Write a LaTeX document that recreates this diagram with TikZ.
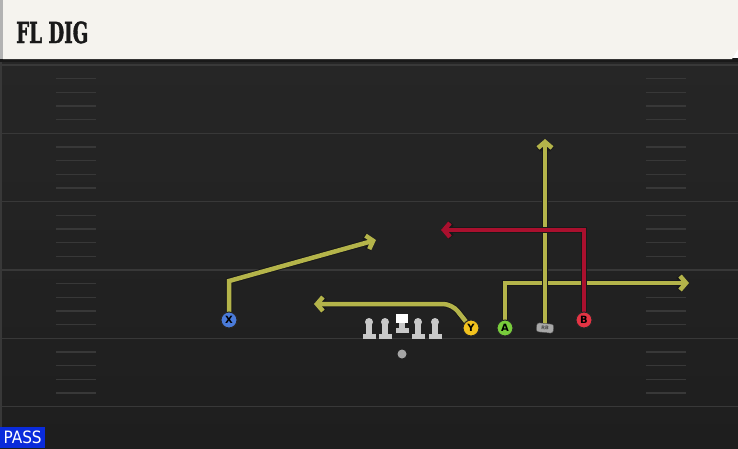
\documentclass[tikz,border=0pt]{standalone}
\usepackage{fontspec}
\newfontfamily\titelfont{DejaVu Serif Condensed}[BoldFeatures={FakeBold=1.6}]
\newfontfamily\spelerfont{DejaVu Sans}
\newfontfamily\passfont{DejaVu Sans Condensed}
\usetikzlibrary{positioning,arrows.meta}
\tikzset{>={Straight Barb[length=6pt,width=14pt]}}
\definecolor{balk}{HTML}{F5F3EE}
\definecolor{veldtop}{HTML}{262626}
\definecolor{veldbodem}{HTML}{1E1E1E}
\definecolor{lijn}{HTML}{383838}
\definecolor{routegeel}{HTML}{B4B44A}
\definecolor{routerood}{HTML}{AA102E}
\definecolor{xblauw}{HTML}{4A7BDA}
\definecolor{ygeel}{HTML}{F2C21E}
\definecolor{agroen}{HTML}{78CC3C}
\definecolor{brood}{HTML}{E43444}
\definecolor{rbgrijs}{HTML}{A8A8A8}
\definecolor{linie}{HTML}{C8C8C8}
\definecolor{passblauw}{HTML}{0A2BDB}
\pgfdeclarelayer{veld}
\pgfdeclarelayer{routes}
\pgfsetlayers{veld,routes,main}

\begin{document}
\begin{tikzpicture}[x=1pt,y=-1pt,
                    speler/.style={circle,draw=black!85,line width=1pt,inner sep=0,minimum size=16pt,
                                   font=\spelerfont\bfseries\fontsize{10}{10}\selectfont},
                    rb/.style={draw=black!70,fill=rbgrijs,rounded corners=2.5pt,inner sep=0,
                               minimum width=17pt,minimum height=9pt,
                               font=\spelerfont\bfseries\fontsize{5}{5}\selectfont,text=black!70},
                    route/.style={->,draw=routegeel,line width=4.5pt,
                                  preaction={draw=black!90,line width=6.5pt}},
                    yardlijn/.style={draw=lijn,line width=1.6pt},
                    hash/.style={draw=lijn,line width=1.3pt},
                    lineman/.pic={
                        \fill[linie] (-3,0) rectangle (3,12);
                        \fill[linie] (-6.5,12) rectangle (6.5,16.5);
                        \fill[linie] (0,0) circle (4);
                    },
                    center/.pic={
                        \fill[linie] (-3,8) rectangle (3,14);
                        \fill[linie] (-6.5,14) rectangle (6.5,18.5);
                        \fill[white] (-6,0) rectangle (6,9);
                    },
       ]
    \useasboundingbox (0,0) rectangle (738,448);
    \begin{pgfonlayer}{veld}
        % veld
        \shade[top color=veldtop,bottom color=veldbodem] (0,60) rectangle (738,448);
        \fill[lijn] (0,60) rectangle (2,448);
        \foreach \s in {0,...,5}
            \draw[yardlijn] (0,65+68.33*\s) -- (738,65+68.33*\s);
        \foreach \s in {0,...,4}
            \foreach \h in {1,...,4}{
                \draw[hash] (56,65+68.33*\s+13.67*\h) -- (96,65+68.33*\s+13.67*\h);
                \draw[hash] (646,65+68.33*\s+13.67*\h) -- (686,65+68.33*\s+13.67*\h);
            }
        % titelbalk
        \fill[black!90] (0,58) rectangle (738,62);
        \fill[balk] (3,0) -- (738,0) -- (738,49) -- (732,59) -- (3,59) -- cycle;
        \fill[black!30] (0,0) rectangle (3,59);
    \end{pgfonlayer}
    \node[anchor=base west,inner sep=0,font=\titelfont\bfseries\fontsize{29}{29}\selectfont,text=black!90]
        (titel) at (16,43) {\scalebox{0.7}[1]{FL DIG}};
    \node[anchor=south west,fill=passblauw,text=white,inner sep=0,minimum width=45pt,minimum height=21pt,
          font=\passfont\fontsize{17}{17}\selectfont] (pass) at (0,448) {PASS};
    % spelers
    \node[speler,fill=xblauw] (X) at (229,320) {X};
    \node[speler,fill=ygeel] (Y) at (471,328) {Y};
    \node[speler,fill=agroen] (A) at (505,328) {A};
    \node[rb,rotate=-6] (RB) at (545,328) {RB};
    \node[speler,fill=brood] (B) at (584,320) {B};
    \node[circle,fill=gray!70,inner sep=0,minimum size=9pt] (QB) at (402,354) {};
    \foreach \x in {369,385,418,435}
        \pic at (\x,322) {lineman};
    \pic at (402,314) {center};
    % routes
    \coordinate (x1) at (229,281);
    \coordinate (x2) at (376,240);
    \coordinate (y1) at (452,304);
    \coordinate (y2) at (314,304);
    \coordinate (a1) at (505,283);
    \coordinate (a2) at (689,283);
    \coordinate (rb1) at (545,139);
    \coordinate (b1) at (584,230);
    \coordinate (b2) at (441,230);
    \begin{pgfonlayer}{routes}
        \draw[route] (X.center) -- (x1) -- (x2);
        \draw[route,rounded corners=9pt] (Y.center) -- (y1) -- (y2);
        \draw[route] (A.center) -- (a1) -- (a2);
        \draw[route] (RB.center) -- (rb1);
        \draw[route,draw=routerood] (B.center) -- (b1) -- (b2);
    \end{pgfonlayer}
\end{tikzpicture}
\end{document}
